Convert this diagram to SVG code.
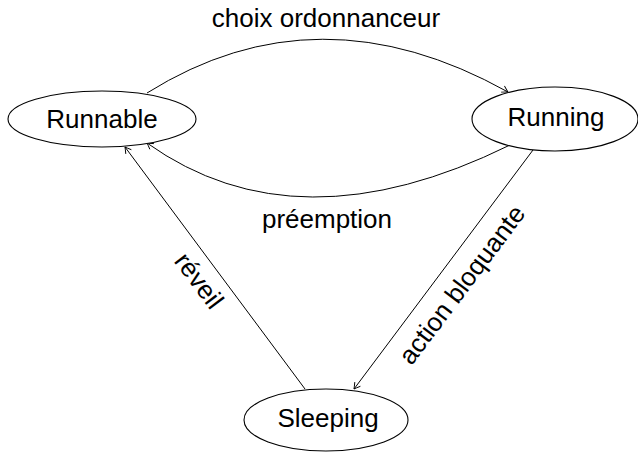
<svg xmlns="http://www.w3.org/2000/svg" width="638" height="452" viewBox="0 0 638 452">
<style>
.node ellipse{fill:#fff;stroke:#000;stroke-width:1.1}
text{font-family:"Liberation Sans",Arial,sans-serif;font-size:26px;fill:#000}
.edge{fill:none;stroke:#000;stroke-width:1;marker-end:url(#arr)}
</style>
<defs>
<marker id="arr" viewBox="-8 -5 10 10" markerWidth="10" markerHeight="10" refX="0" refY="0" orient="auto" markerUnits="userSpaceOnUse">
<path d="M -6 -3.5 Q -2 -1 0 0 Q -2 1 -6 3.5" fill="none" stroke="#000" stroke-width="0.9"/>
</marker>
</defs>
<rect width="638" height="452" fill="#fff"/>
<g id="connectors">
<path class="edge" d="M 147 93 Q 318 -14 508 92"/>
<path class="edge" d="M 510 145 Q 297 250 147 143"/>
<path class="edge" d="M 305 389 L 125 147"/>
<path class="edge" d="M 533 150 L 354 389"/>
<text x="326" y="27" text-anchor="middle">choix ordonnanceur</text>
<text x="327" y="228" text-anchor="middle">préemption</text>
<text transform="translate(192,286) rotate(53)" text-anchor="middle">réveil</text>
<text transform="translate(469,290) rotate(-53)" text-anchor="middle">action bloquante</text>
</g>
<g id="runnable" class="node">
<ellipse cx="102" cy="119" rx="94" ry="28"/>
<text x="102" y="128" text-anchor="middle">Runnable</text>
</g>
<g id="running" class="node">
<ellipse cx="555" cy="119" rx="83" ry="32"/>
<text x="556" y="126" text-anchor="middle">Running</text>
</g>
<g id="sleeping" class="node">
<ellipse cx="326" cy="420" rx="82" ry="31"/>
<text x="328" y="427" text-anchor="middle">Sleeping</text>
</g>
</svg>
